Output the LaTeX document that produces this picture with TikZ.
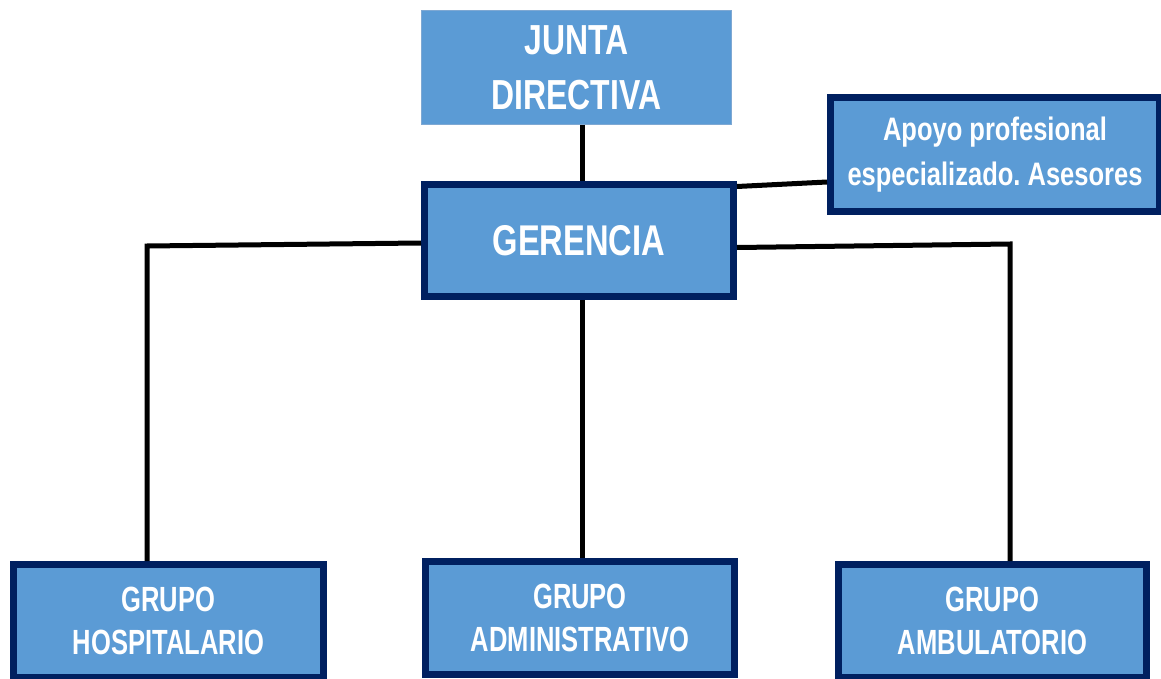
\documentclass[tikz,border=0pt]{standalone}
\usepackage{fontspec}
\newfontfamily\labA{Liberation Sans}[FakeStretch=0.76]
\newfontfamily\labC{Liberation Sans}[FakeStretch=0.785]
\newfontfamily\labB{Liberation Sans}[FakeStretch=0.73]
\definecolor{boxfill}{HTML}{5B9BD5}
\definecolor{navy}{HTML}{002060}
\definecolor{lightedge}{HTML}{7EA8D3}
\frenchspacing
\begin{document}
\begin{tikzpicture}[x=1pt,y=-1pt,
  basebox/.style={fill=boxfill,text=white,align=center,inner sep=0pt,font=\bfseries},
  topbox/.style={basebox,draw=lightedge,line width=1pt,minimum width=310pt,minimum height=114pt},
  mainbox/.style={basebox,draw=navy,line width=7pt},
  link/.style={draw=black,line width=5pt}]
\useasboundingbox (0,0) rectangle (1161,679);
\clip (0,0) rectangle (1161,679);
% boxes
\node[topbox,font=\labA\bfseries\fontsize{42}{55}\selectfont] (J) at (576.5,67.5) {JUNTA\\DIRECTIVA};
\node[mainbox,minimum width=309pt,minimum height=112pt,font=\labA\bfseries\fontsize{43}{50}\selectfont] (G) at (579,240.5) {GERENCIA};
\node[mainbox,minimum width=329pt,minimum height=114pt,font=\labC\bfseries\fontsize{32.5}{45}\selectfont] (A) at (995,154.5) {Apoyo profesional\\especializado. Asesores};
\node[mainbox,minimum width=310pt,minimum height=113pt,font=\labB\bfseries\fontsize{35}{43}\selectfont] (H) at (168.5,621) {GRUPO\\HOSPITALARIO};
\node[mainbox,minimum width=309pt,minimum height=113pt,font=\labB\bfseries\fontsize{35}{43}\selectfont] (D) at (580,618) {GRUPO\\ADMINISTRATIVO};
\node[mainbox,minimum width=308pt,minimum height=113pt,font=\labB\bfseries\fontsize{35}{43}\selectfont] (B) at (992.5,621) {GRUPO\\AMBULATORIO};
% corners
\coordinate (hc) at (147,246);
\coordinate (bc) at (1010,244);
\coordinate (dc) at (582,400);
% connectors
\draw[link] ([xshift=5.5pt]J.south) -- ([xshift=3pt]G.north);
\draw[link] ([yshift=-2.5pt]G.west) -- (hc) -- (H.north -| hc);
\draw[link] ([yshift=-7pt]G.east) -- (bc) -- (B.north -| bc);
\draw[link] (G.south -| dc) -- (D.north -| dc);
\draw[link] ([yshift=54pt]G.east) -- ([yshift=-27.5pt]A.west);
\end{tikzpicture}
\end{document}
